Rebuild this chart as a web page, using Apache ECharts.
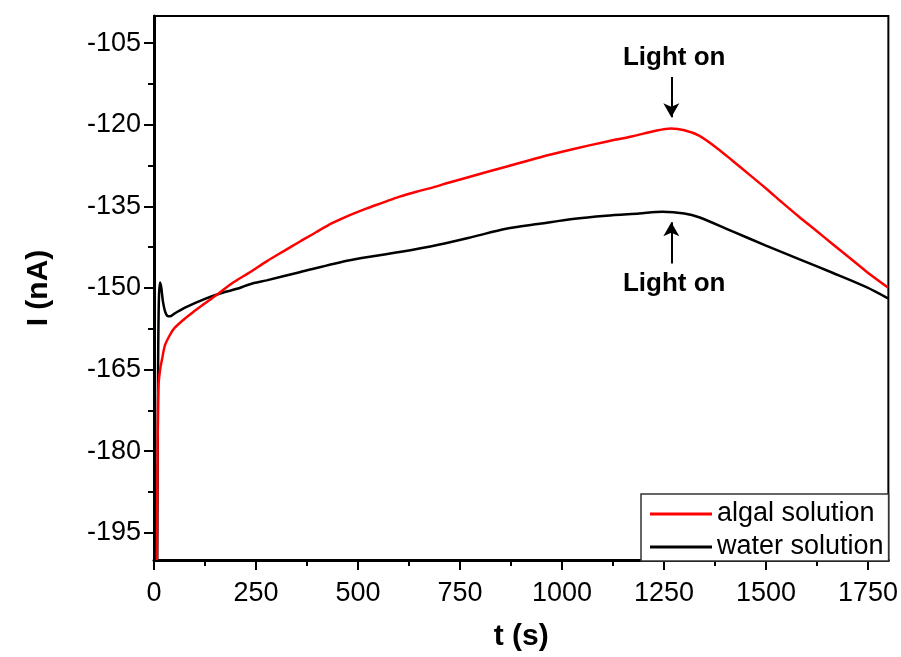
<!DOCTYPE html>
<html>
<head>
<meta charset="utf-8">
<script src="https://cdn.jsdelivr.net/npm/echarts@6/dist/echarts.min.js"></script>
<style>html,body{margin:0;padding:0;background:#fff}#c{width:901px;height:657px}</style>
</head>
<body>
<div id="c"></div>
<script>
// ---- data ----
var redT = [7, 9, 11, 15, 20, 27, 40, 51, 76, 100, 125, 155, 194, 235, 276, 316, 357, 398, 439, 480, 520, 561, 602, 643, 684, 724, 781, 863, 945, 1026, 1108, 1173, 1230, 1267, 1300, 1336, 1380, 1418, 1460, 1500, 1540, 1581, 1622, 1663, 1704, 1745, 1799];
var redI = [-200, -178, -168, -165, -163, -160.5, -158.5, -157.3, -155.6, -154.2, -152.8, -151.2, -149, -147.1, -145.1, -143.3, -141.5, -139.7, -138.0, -136.6, -135.4, -134.3, -133.2, -132.3, -131.5, -130.6, -129.4, -127.7, -126.0, -124.5, -123.1, -122.1, -121.1, -120.7, -121.0, -122.0, -124.3, -126.6, -129.2, -131.7, -134.3, -136.9, -139.4, -141.9, -144.4, -146.9, -149.9];
var blkT = [8, 10, 12, 15, 18, 22, 28, 35, 39, 50, 76, 125, 162, 210, 235, 276, 357, 480, 602, 700, 781, 863, 945, 1026, 1108, 1189, 1246, 1300, 1336, 1418, 1500, 1581, 1663, 1745, 1799];
var blkI = [-200, -165, -152, -149, -150, -152.5, -154.5, -155.2, -155.2, -154.7, -153.6, -152, -151, -150, -149.3, -148.6, -147.1, -144.9, -143.4, -142.0, -140.6, -139.1, -138.2, -137.3, -136.7, -136.3, -136.0, -136.3, -137.0, -139.6, -142.2, -144.7, -147.2, -149.8, -151.9];
var seriesNames = ['algal solution', 'water solution'];
var xTicks = [0, 250, 500, 750, 1000, 1250, 1500, 1750];
var xMinor = [125, 375, 625, 875, 1125, 1375, 1625];
var yTicks = [-195, -180, -165, -150, -135, -120, -105];
var yMinor = [-187.5, -172.5, -157.5, -142.5, -127.5, -112.5];
var lightT = 1268;
var arrowTop = [-111.2, -118.6];
var arrowBottom = [-145.5, -137.9];
var labelTop = -107.6;
var labelBottom = -149.2;
var annotText = 'Light on';

function pairs(t, v) { return t.map(function (x, i) { return [x, v[i]]; }); }
function plain(v) { return String(v); }

var FONT = "'Liberation Sans', Arial, sans-serif";
var chart = echarts.init(document.getElementById('c'), null, { renderer: 'canvas' });
var axisLineStyle = { color: '#000', width: 3 };
chart.setOption({
  animation: false,
  backgroundColor: '#fff',
  textStyle: { fontFamily: FONT },
  grid: { left: 154, right: 11, top: 16, bottom: 97, show: true, borderColor: '#000', borderWidth: 2, backgroundColor: 'transparent' },
  xAxis: [{
    type: 'value', min: 0, max: 1800,
    name: 't (s)', nameLocation: 'middle', nameGap: 62,
    nameTextStyle: { fontSize: 30, fontWeight: 'bold', color: '#000', fontFamily: FONT },
    axisLine: { show: true, lineStyle: axisLineStyle },
    axisTick: { show: true, inside: false, length: 10, lineStyle: { color: '#000', width: 2 }, customValues: xTicks },
    axisLabel: { color: '#000', fontSize: 27, margin: 20, fontFamily: FONT, customValues: xTicks, formatter: plain },
    splitLine: { show: false }
  }, {
    type: 'value', min: 0, max: 1800, position: 'bottom',
    axisLine: { show: false },
    axisTick: { show: true, inside: false, length: 6, lineStyle: { color: '#000', width: 2 }, customValues: xMinor },
    axisLabel: { show: false },
    splitLine: { show: false }
  }],
  yAxis: [{
    type: 'value', min: -200, max: -100,
    name: 'I (nA)', nameLocation: 'middle', nameGap: 100, nameRotate: 90,
    nameTextStyle: { fontSize: 30, fontWeight: 'bold', color: '#000', fontFamily: FONT },
    axisLine: { show: true, lineStyle: axisLineStyle },
    axisTick: { show: true, inside: false, length: 10, lineStyle: { color: '#000', width: 2 }, customValues: yTicks },
    axisLabel: { color: '#000', fontSize: 27, margin: 13, fontFamily: FONT, customValues: yTicks, formatter: plain },
    splitLine: { show: false }
  }, {
    type: 'value', min: -200, max: -100, position: 'left',
    axisLine: { show: false },
    axisTick: { show: true, inside: false, length: 6, lineStyle: { color: '#000', width: 2 }, customValues: yMinor },
    axisLabel: { show: false },
    splitLine: { show: false }
  }],
  legend: {
    data: seriesNames, orient: 'vertical', left: 641, top: 494,
    icon: 'rect', itemWidth: 62, itemHeight: 3, itemGap: 5, padding: [6, 5, 0, 9],
    backgroundColor: '#fff', borderColor: '#333', borderWidth: 1.5, borderRadius: 0,
    textStyle: { fontSize: 27, color: '#000', fontFamily: FONT, lineHeight: 28 }
  },
  series: [{
    name: seriesNames[0], type: 'line', data: pairs(redT, redI), symbol: 'none',
    smooth: 0.3,
    lineStyle: { color: '#ff0000', width: 2.5 }, itemStyle: { color: '#ff0000' }, z: 3,
    markLine: {
      silent: true, symbol: ['none', 'arrow'], symbolSize: [12, 14],
      lineStyle: { color: '#000', width: 2, type: 'solid' }, label: { show: false },
      data: [
        [{ coord: [lightT, arrowTop[0]] }, { coord: [lightT, arrowTop[1]] }],
        [{ coord: [lightT, arrowBottom[0]] }, { coord: [lightT, arrowBottom[1]] }]
      ]
    },
    markPoint: {
      silent: true, symbol: 'circle', symbolSize: 1, itemStyle: { color: 'rgba(0,0,0,0)' },
      label: { show: true, position: 'inside', formatter: annotText, color: '#000', fontSize: 26, fontWeight: 'bold', fontFamily: FONT },
      data: [{ coord: [lightT + 7, labelTop] }, { coord: [lightT + 7, labelBottom] }]
    }
  }, {
    name: seriesNames[1], type: 'line', data: pairs(blkT, blkI), symbol: 'none',
    smooth: 0.3,
    lineStyle: { color: '#000', width: 2.5 }, itemStyle: { color: '#000' }, z: 2
  }]
});
</script>
</body>
</html>
